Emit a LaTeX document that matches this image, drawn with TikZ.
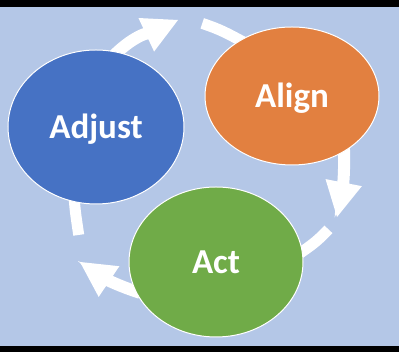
\documentclass[tikz,border=0pt]{standalone}
\usepackage{fontspec}
\setmainfont{Carlito}
\usetikzlibrary{shapes.geometric,arrows.meta,positioning}
\pgfdeclarelayer{background}
\pgfsetlayers{background,main}
\definecolor{slide}{HTML}{B4C7E7}
\definecolor{adjblue}{HTML}{4672C4}
\definecolor{alnorange}{HTML}{E28040}
\definecolor{actgreen}{HTML}{70AB48}

\begin{document}
\begin{tikzpicture}[x = 1pt, y = 1pt, phase/.style = {ellipse, draw = white, line width = 1pt, inner sep = 0pt, text = white, font = \bfseries\fontsize{35}{38}\selectfont, text height = 23pt, text depth = 0pt}, flow/.style = {white, line width = 12pt, shorten <= -5pt}, flowhead/.style = {flow, -{Triangle[length = 35pt, width = 37pt, line width = 0pt]}}, flowpart/.style = {flow, line width = 11pt, shorten >= -5pt}]
	\useasboundingbox (0,0) rectangle (399,352);
	\node[phase, fill = adjblue, minimum width = 176pt, minimum height = 154pt] (adj) at (96,225) {Adjust};
	\node[phase, fill = alnorange, minimum width = 174pt, minimum height = 138pt] (aln) at (292,256) {Align};
	\node[phase, fill = actgreen, minimum width = 174pt, minimum height = 150pt] (act) at (216,90) {Act};
	\coordinate (tip1) at (178,332);
	\coordinate (end2) at (207,327);
	\coordinate (tip3) at (337,135);
	\coordinate (end4) at (325,119);
	\coordinate (tip5) at (80,90);
	\coordinate (end6) at (78,122);
	\begin{pgfonlayer}{background}
	% slide background with its black bands
	\fill[black] (0,0) rectangle (399,352);
	\fill[slide] (0,6) rectangle (399,345);
	\draw[flowhead] (adj.74) to[out = 45, in = -155] (tip1);
	\draw[flowpart] (end2) to[out = -18, in = 152] (aln.133);
	\draw[flowhead] (aln.-47) to[out = -88, in = 79] (tip3);
	\draw[flowpart] (end4) to[out = -133, in = 35] (act.7);
	\draw[flowhead] (act.200) to[out = 162, in = -34] (tip5);
	\draw[flowpart] (end6) to[out = 98, in = -86] (adj.-106);
	\end{pgfonlayer}
\end{tikzpicture}
\end{document}
